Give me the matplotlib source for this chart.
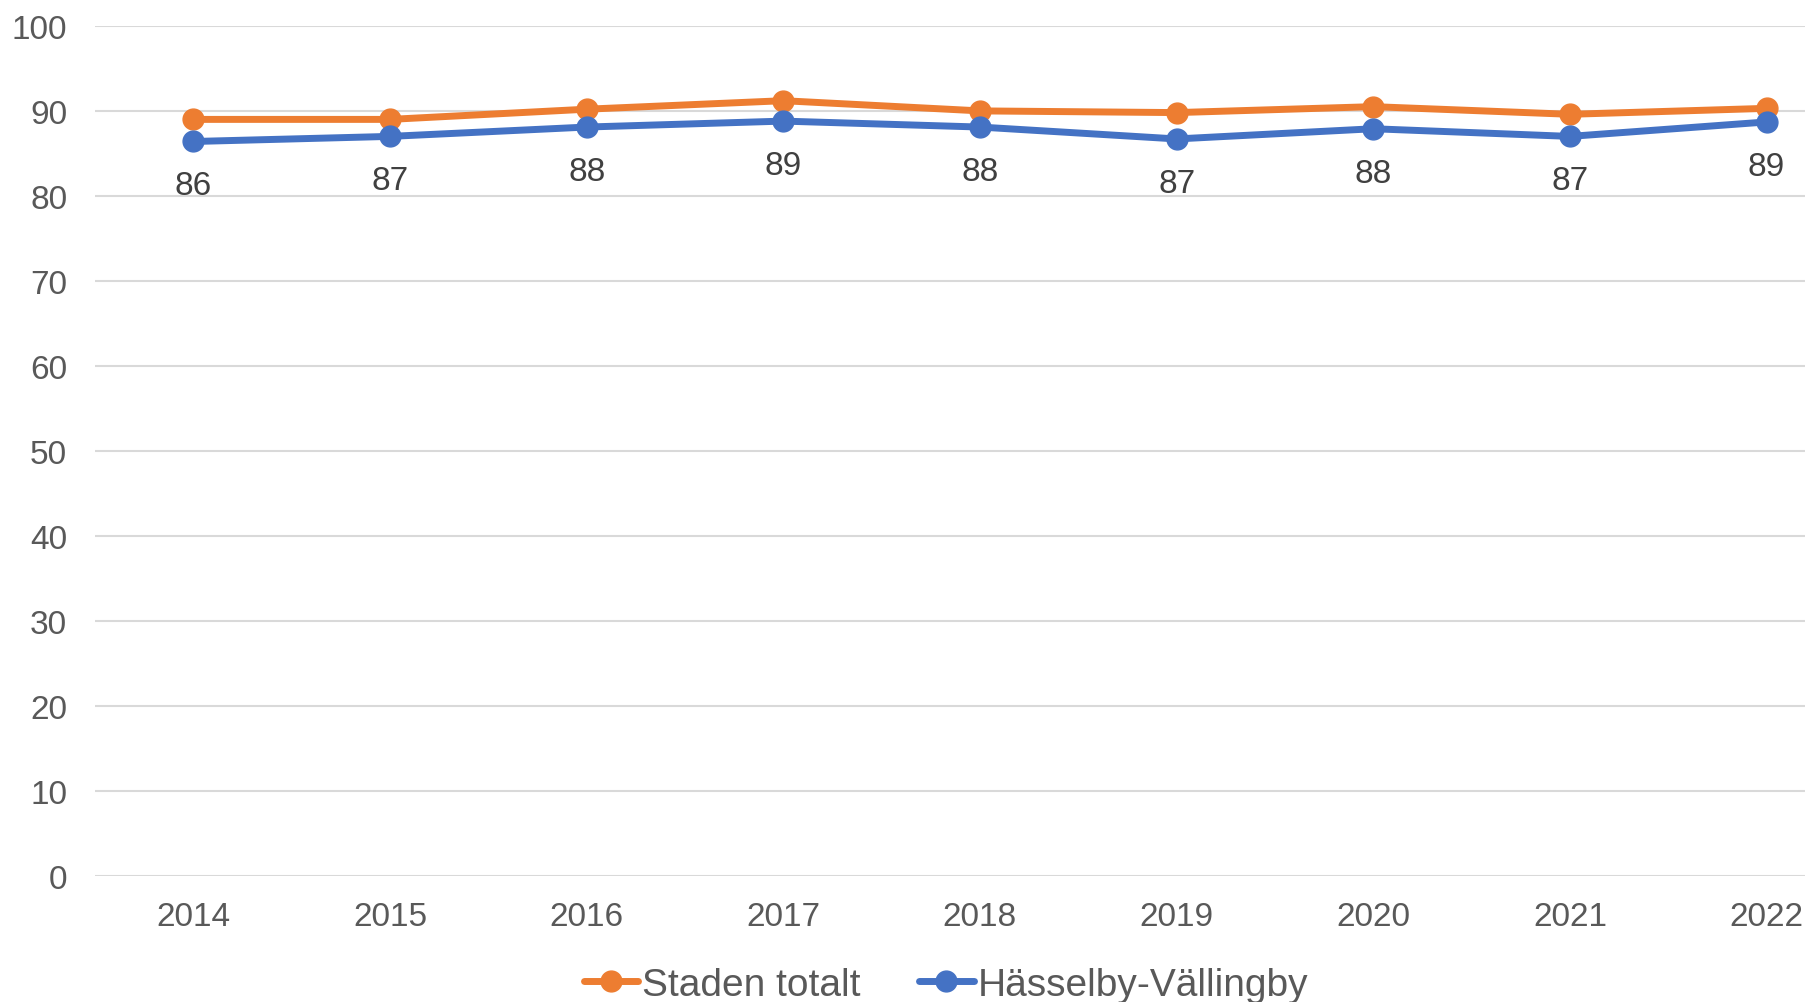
import numpy as np
import matplotlib
matplotlib.use("Agg")
import matplotlib.pyplot as plt

plt.rcParams['font.family'] = ['Liberation Sans', 'DejaVu Sans']

years = ['2014', '2015', '2016', '2017', '2018', '2019', '2020', '2021', '2022']
staden = [89.0, 89.0, 90.2, 91.2, 90.0, 89.8, 90.5, 89.6, 90.3]
hasselby = [86.4, 87.0, 88.1, 88.8, 88.1, 86.7, 87.9, 87.0, 88.7]
hasselby_labels = ['86', '87', '88', '89', '88', '87', '88', '87', '89']

orange = '#ED7D31'
blue = '#4472C4'
text_col = '#595959'
grid_col = '#D9D9D9'

fig = plt.figure(figsize=(18.06, 10.03), dpi=100)
ax = fig.add_axes([0.0526, 0.1256, 0.980, 0.8476])

x = np.arange(len(years))
ax.plot(x, staden, color=orange, lw=5, marker='o', ms=15, label='Staden totalt',
        solid_capstyle='round', zorder=3)
ax.plot(x, hasselby, color=blue, lw=5, marker='o', ms=15, label='Hässelby-Vällingby',
        solid_capstyle='round', zorder=3)

for xi, yi, lab in zip(x, hasselby, hasselby_labels):
    ax.annotate(lab, (xi, yi), xytext=(0, -32), textcoords='offset points',
                ha='center', va='center', fontsize=24, color='#404040')

ax.set_xlim(-0.5, len(years) - 0.5)
ax.set_ylim(0, 100)
ax.set_yticks(range(0, 101, 10))
ax.set_xticks(x)
ax.set_xticklabels(years)
ax.tick_params(axis='both', length=0, labelsize=24, colors=text_col)
ax.tick_params(axis='y', pad=20)
ax.tick_params(axis='x', pad=18)
ax.grid(axis='y', color=grid_col, lw=1.5)
ax.set_axisbelow(True)
for s in ax.spines.values():
    s.set_visible(False)

fig.legend(loc='center', bbox_to_anchor=(946 / 1806, 1 - 986 / 1003), ncol=2,
           frameon=False, fontsize=28, labelcolor=text_col, handlelength=1.4,
           handletextpad=0.1, columnspacing=1.5)

fig.savefig('out.png', dpi=100)
